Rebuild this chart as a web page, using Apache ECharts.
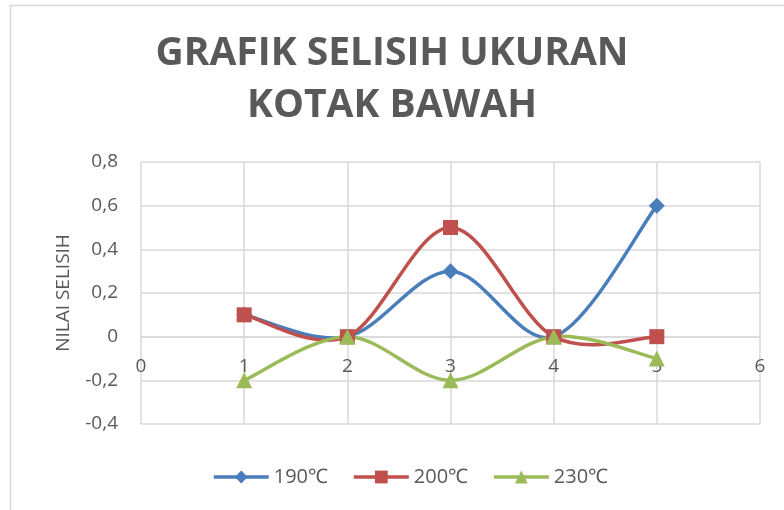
<!DOCTYPE html>
<html>
<head>
<meta charset="utf-8">
<script src="https://cdn.jsdelivr.net/npm/echarts@6/dist/echarts.min.js"></script>
<style>
  html, body { margin: 0; padding: 0; background: #fff; }
  #chart { width: 784px; height: 510px; }
</style>
</head>
<body>
<div id="chart"></div>
<script>
// Measurement points (sample number) and size differences per temperature
const samples = [1, 2, 3, 4, 5];
const values190 = [0.1, 0, 0.3, 0, 0.6];
const values200 = [0.1, 0, 0.5, 0, 0];
const values230 = [-0.2, 0, -0.2, 0, -0.1];
const seriesNames = ['190℃', '200℃', '230℃'];

const X_MIN = 0, X_MAX = 6;
const Y_MIN = -0.4, Y_MAX = 0.8;

const pairs = (ys) => samples.map((x, i) => [x, ys[i]]);
const fmt = (v) => String(Math.round(v * 10) / 10).replace('.', ',');

const textColor = '#595959';
const gridColor = '#d9d9d9';
const font = 'Open Sans';
const colors = ['#4a7ebb', '#c0504d', '#9bbb59'];

const GRID = { left: 141, right: 24, top: 162, bottom: 86 };
const gridHeight = 510 - GRID.top - GRID.bottom;
// shift the sample-number labels up so they sit under the zero line
const xAxisOffset = -gridHeight * (0 - Y_MIN) / (Y_MAX - Y_MIN);

const chart = echarts.init(document.getElementById('chart'), null, { renderer: 'canvas' });

// Smoothed curve (Catmull-Rom converted to cubic Bezier), one segment per data item
function curveSeries(name, ys, color) {
  return {
    name: name,
    type: 'custom',
    data: pairs(ys),
    silent: true,
    itemStyle: { color: color },
    z: 2,
    renderItem: function (params, api) {
      const i = params.dataIndex;
      const n = samples.length;
      if (i >= n - 1) return null;
      const clamp = (k) => Math.max(0, Math.min(n - 1, k));
      const pt = (k) => api.coord([samples[clamp(k)], ys[clamp(k)]]);
      const p0 = pt(i - 1), p1 = pt(i), p2 = pt(i + 1), p3 = pt(i + 2);
      return {
        type: 'bezierCurve',
        shape: {
          x1: p1[0], y1: p1[1],
          x2: p2[0], y2: p2[1],
          cpx1: p1[0] + (p2[0] - p0[0]) / 6,
          cpy1: p1[1] + (p2[1] - p0[1]) / 6,
          cpx2: p2[0] - (p3[0] - p1[0]) / 6,
          cpy2: p2[1] - (p3[1] - p1[1]) / 6
        },
        style: { stroke: color, lineWidth: 3.5, fill: null, lineCap: 'round' }
      };
    }
  };
}

// Point markers (the curve itself is drawn by the custom series)
function markerSeries(name, ys, color, symbol, size) {
  return {
    name: name,
    type: 'line',
    data: pairs(ys),
    symbol: symbol,
    symbolSize: size,
    showAllSymbol: true,
    lineStyle: { color: color, width: 3.5, opacity: 0 },
    itemStyle: { color: color },
    emphasis: { disabled: true },
    z: 3
  };
}

chart.setOption({
  animation: false,
  backgroundColor: '#fff',
  graphic: [{
    type: 'rect',
    shape: { x: 10.5, y: 5.5, width: 800, height: 600 },
    style: { fill: 'none', stroke: gridColor, lineWidth: 1.5 },
    silent: true
  }],
  title: {
    text: 'GRAFIK SELISIH UKURAN\nKOTAK BAWAH',
    left: 'center',
    top: 23,
    textStyle: {
      fontFamily: font,
      fontWeight: 'bold',
      fontSize: 39,
      color: textColor,
      lineHeight: 52
    }
  },
  legend: {
    top: 462,
    left: 207,
    itemWidth: 55,
    itemHeight: 16,
    itemGap: 24,
    data: seriesNames.map((name, i) => ({
      name: name,
      lineStyle: { color: colors[i], width: 3.5, opacity: 1 }
    })),
    textStyle: { fontFamily: font, fontSize: 20, color: textColor }
  },
  grid: { left: GRID.left, right: GRID.right, top: GRID.top, bottom: GRID.bottom, containLabel: false },
  xAxis: {
    type: 'value',
    min: X_MIN,
    max: X_MAX,
    interval: 1,
    offset: xAxisOffset,
    axisLine: { onZero: false, lineStyle: { color: gridColor, width: 1.5 } },
    axisTick: { show: false },
    axisLabel: { fontFamily: font, fontSize: 19, color: textColor, margin: 20 },
    splitLine: { show: true, lineStyle: { color: gridColor, width: 1.5 } }
  },
  yAxis: {
    type: 'value',
    min: Y_MIN,
    max: Y_MAX,
    interval: 0.2,
    name: 'NILAI SELISIH',
    nameLocation: 'middle',
    nameGap: 68,
    nameTextStyle: { fontFamily: font, fontSize: 19, color: textColor },
    axisLine: { show: false },
    axisTick: { show: false },
    axisLabel: { fontFamily: font, fontSize: 19, color: textColor, margin: 23, formatter: fmt },
    splitLine: { show: true, lineStyle: { color: gridColor, width: 1.5 } }
  },
  series: [
    markerSeries(seriesNames[0], values190, colors[0], 'diamond', 16),
    markerSeries(seriesNames[1], values200, colors[1], 'rect', 15),
    markerSeries(seriesNames[2], values230, colors[2], 'triangle', 16),
    curveSeries(seriesNames[0], values190, colors[0]),
    curveSeries(seriesNames[1], values200, colors[1]),
    curveSeries(seriesNames[2], values230, colors[2])
  ]
});
</script>
</body>
</html>
